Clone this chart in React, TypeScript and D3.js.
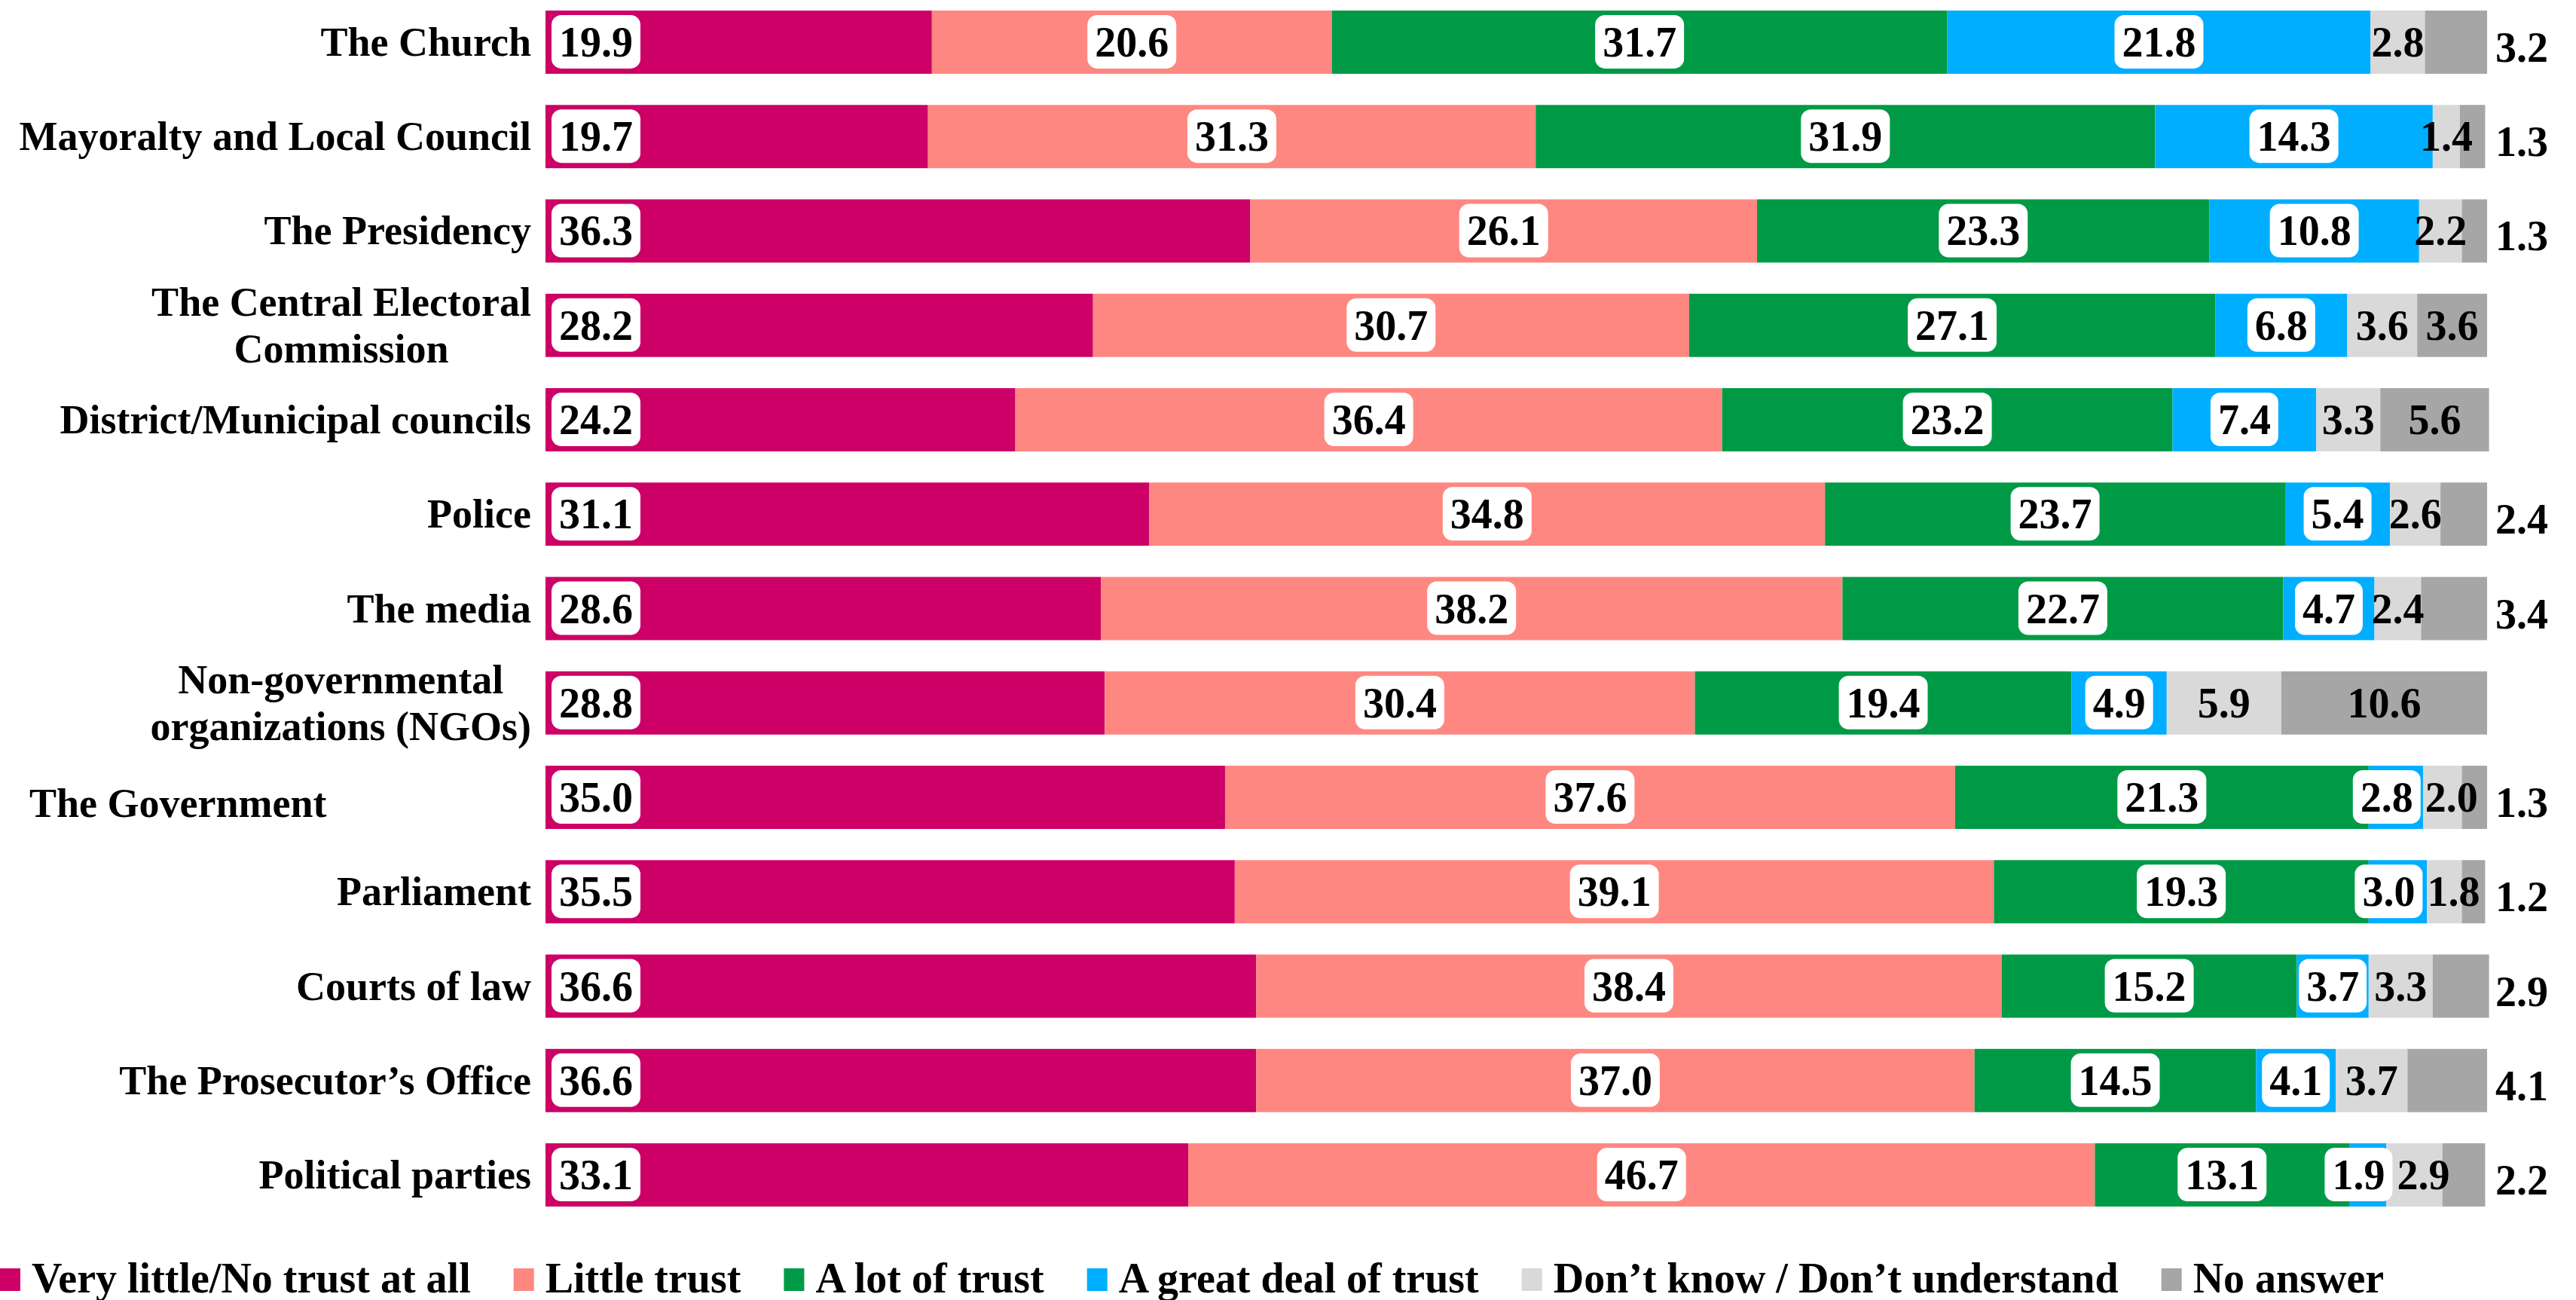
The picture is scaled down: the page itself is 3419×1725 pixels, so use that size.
import React, { useEffect, useRef } from 'react';
import * as d3 from 'd3';

const categories = [
  'The Church',
  'Mayoralty and Local Council',
  'The Presidency',
  'The Central Electoral Commission',
  'District/Municipal councils',
  'Police',
  'The media',
  'Non-governmental organizations (NGOs)',
  'The Government',
  'Parliament',
  'Courts of law',
  'The Prosecutor’s Office',
  'Political parties',
];

const categoryLines = [
  ['The Church'],
  ['Mayoralty and Local Council'],
  ['The Presidency'],
  ['The Central Electoral', 'Commission'],
  ['District/Municipal councils'],
  ['Police'],
  ['The media'],
  ['Non-governmental', 'organizations (NGOs)'],
  ['The Government'],
  ['Parliament'],
  ['Courts of law'],
  ['The Prosecutor’s Office'],
  ['Political parties'],
];

const seriesNames = [
  'Very little/No trust at all',
  'Little trust',
  'A lot of trust',
  'A great deal of trust',
  'Don’t know / Don’t understand',
  'No answer',
];

const veryLittle = [19.9, 19.7, 36.3, 28.2, 24.2, 31.1, 28.6, 28.8, 35.0, 35.5, 36.6, 36.6, 33.1];
const littleTrust = [20.6, 31.3, 26.1, 30.7, 36.4, 34.8, 38.2, 30.4, 37.6, 39.1, 38.4, 37.0, 46.7];
const aLotOfTrust = [31.7, 31.9, 23.3, 27.1, 23.2, 23.7, 22.7, 19.4, 21.3, 19.3, 15.2, 14.5, 13.1];
const greatDeal = [21.8, 14.3, 10.8, 6.8, 7.4, 5.4, 4.7, 4.9, 2.8, 3.0, 3.7, 4.1, 1.9];
const dontKnow = [2.8, 1.4, 2.2, 3.6, 3.3, 2.6, 2.4, 5.9, 2.0, 1.8, 3.3, 3.7, 2.9];
const noAnswer = [3.2, 1.3, 1.3, 3.6, 5.6, 2.4, 3.4, 10.6, 1.3, 1.2, 2.9, 4.1, 2.2];

const seriesValues = [veryLittle, littleTrust, aLotOfTrust, greatDeal, dontKnow, noAnswer];
const seriesColors = ['#CC0066', '#FF8781', '#009A46', '#00AEFF', '#D9D9D9', '#A6A6A6'];

// categories whose "No answer" label sits inside its segment
const noAnswerInside = [
  'The Central Electoral Commission',
  'District/Municipal councils',
  'Non-governmental organizations (NGOs)',
];
// category label drawn flush left
const leftAlignedLabels = ['The Government'];

const W = 3419;
const H = 1725;
const FONT = '"Liberation Serif", "Times New Roman", serif';

export default function App() {
  const ref = useRef<SVGSVGElement | null>(null);

  useEffect(() => {
    const draw = () => {
      const svg = d3.select(ref.current);
      svg.selectAll('*').remove();

      const x = d3.scaleLinear().domain([0, 100]).range([724, 3301]);
      const y = d3
        .scaleBand<string>()
        .domain(categories)
        .range([14, 1601])
        .paddingInner(0.33)
        .paddingOuter(0);
      const bh = y.bandwidth();

      const rows = categories.map((c, i) => {
        const r: any = { category: c };
        seriesNames.forEach((s, k) => (r[s] = seriesValues[k][i]));
        return r;
      });
      const stacked = d3.stack<any>().keys(seriesNames)(rows);

      // bars
      const g = svg.append('g');
      stacked.forEach((layer, k) => {
        g.selectAll(null)
          .data(layer)
          .enter()
          .append('rect')
          .attr('x', (d) => x(d[0]))
          .attr('y', (d) => y(d.data.category)!)
          .attr('width', (d) => x(d[1]) - x(d[0]))
          .attr('height', bh)
          .attr('fill', seriesColors[k]);
      });

      // data labels
      const lg = svg.append('g').attr('font-family', FONT).attr('font-weight', 'bold').attr('font-size', 56);
      categories.forEach((cat, i) => {
        const top = y(cat)!;
        const cy = top + bh / 2;
        const items: any[] = [];
        stacked.forEach((layer, k) => {
          const d = layer[i];
          const label = (d[1] - d[0]).toFixed(1);
          if (k === 5 && !noAnswerInside.includes(cat)) {
            lg.append('text')
              .attr('x', x(100) + 11)
              .attr('y', cy + 26)
              .attr('text-anchor', 'start')
              .attr('fill', '#000')
              .text(label);
            return;
          }
          const boxed = k <= 3;
          const rect = boxed ? lg.append('rect') : null;
          const t = lg.append('text').attr('y', cy + 19).attr('fill', '#000').attr('text-anchor', 'middle').text(label);
          const tw = (t.node() as SVGTextElement).getComputedTextLength();
          const hw = boxed ? tw / 2 + 10 : tw / 2;
          const cx = k === 0 ? x(d[0]) + 8 + hw : (x(d[0]) + x(d[1])) / 2;
          items.push({ k, t, rect, tw, hw, cx });
        });
        // simple overlap resolution between neighbouring labels
        for (let pass = 0; pass < 3; pass++) {
          for (let j = 1; j < items.length; j++) {
            const a = items[j - 1];
            const b = items[j];
            const overlap = a.cx + a.hw + 6 - (b.cx - b.hw);
            if (overlap > 0) {
              if (a.k === 0) {
                b.cx += overlap;
              } else {
                a.cx -= overlap / 2;
                b.cx += overlap / 2;
              }
            }
          }
        }
        items.forEach((it) => {
          it.t.attr('x', it.cx);
          if (it.rect) {
            it.rect
              .attr('x', it.cx - it.hw)
              .attr('y', top + 6)
              .attr('width', it.hw * 2)
              .attr('height', bh - 13)
              .attr('rx', 13)
              .attr('fill', '#fff');
          }
        });
      });

      // category labels
      const cg = svg.append('g').attr('font-family', FONT).attr('font-weight', 'bold').attr('font-size', 54).attr('fill', '#000');
      categories.forEach((c, i) => {
        const cy = y(c)! + bh / 2;
        const lines = categoryLines[i];
        if (leftAlignedLabels.includes(c)) {
          cg.append('text').attr('x', 39).attr('y', cy + 26).attr('text-anchor', 'start').text(lines[0]);
          return;
        }
        if (lines.length === 1) {
          cg.append('text').attr('x', 705).attr('y', cy + 18).attr('text-anchor', 'end').text(lines[0]);
          return;
        }
        const texts = lines.map((ln, j) =>
          cg
            .append('text')
            .attr('y', cy + 18 + (j - (lines.length - 1) / 2) * 62)
            .attr('text-anchor', 'middle')
            .text(ln)
        );
        const maxW = d3.max(texts, (t) => (t.node() as SVGTextElement).getComputedTextLength()) || 0;
        texts.forEach((t) => t.attr('x', 705 - maxW / 2));
      });

      // legend
      const leg = svg.append('g').attr('font-family', FONT).attr('font-weight', 'bold').attr('font-size', 56).attr('fill', '#000');
      let lx = 0;
      seriesNames.forEach((s, k) => {
        leg.append('rect').attr('x', lx).attr('y', 1683).attr('width', 27).attr('height', 30).attr('fill', seriesColors[k]);
        const t = leg.append('text').attr('x', lx + 42).attr('y', 1715).text(s);
        const tw = (t.node() as SVGTextElement).getComputedTextLength();
        lx = lx + 42 + tw + 57;
      });
    };
    draw();
    if ((document as any).fonts && (document as any).fonts.ready) {
      (document as any).fonts.ready.then(draw);
    }
  }, []);

  return (
    <svg
      ref={ref}
      width={W}
      height={H}
      style={{ position: 'absolute', left: 0, top: 0, display: 'block', background: '#fff' }}
    />
  );
}
